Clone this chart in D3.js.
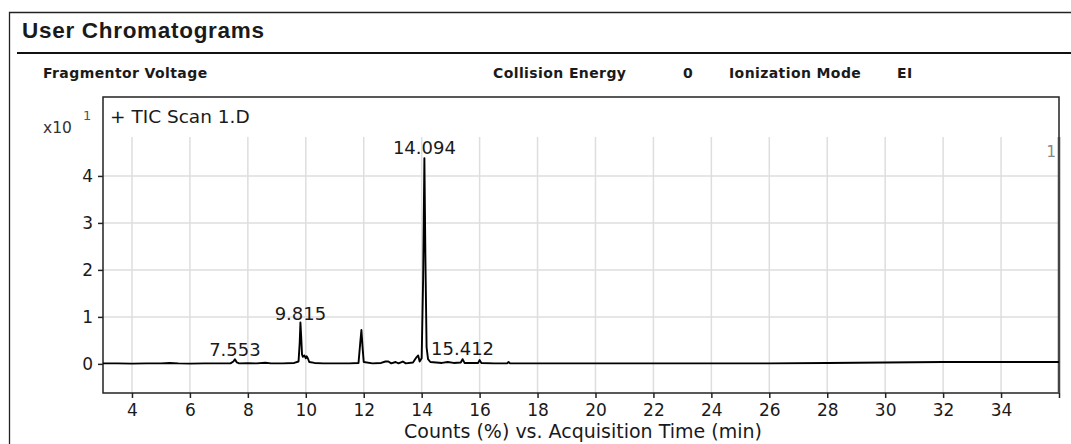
<!DOCTYPE html>
<meta charset="utf-8">
<style>
    body { margin: 0; background: #fff; }
    text { font-family: "DejaVu Sans", Verdana, sans-serif; fill: #1a1a1a; }
    .hdr { font-weight: bold; font-size: 14px; letter-spacing: 0.4px; }
</style>
<body>
<script src="https://cdn.jsdelivr.net/npm/d3@7"></script>
<script>

// acquisition time (min) and counts (x10^1 %)
var times = [3.0, 3.5, 4.0, 4.5, 5.0, 5.3, 5.6, 6.0, 6.5, 7.0, 7.4, 7.5, 7.553, 7.62, 7.7,
    8.0, 8.3, 8.6, 8.8, 9.2, 9.6, 9.75, 9.79, 9.815, 9.84, 9.87, 9.9, 9.95, 10.0, 10.03,
    10.07, 10.12, 10.3, 10.6, 11.0, 11.5, 11.82, 11.88, 11.92, 11.96, 12.0, 12.3, 12.6, 12.75,
    12.85, 12.95, 13.1, 13.2, 13.35, 13.45, 13.7, 13.82, 13.88, 13.93, 14.0, 14.05, 14.094,
    14.13, 14.17, 14.22, 14.3, 14.5, 14.7, 14.9, 15.1, 15.35, 15.412, 15.48, 15.7, 15.95,
    16.0, 16.06, 16.5, 16.95, 17.0, 17.05, 18, 20, 22, 24, 26, 28, 30, 32, 34, 36];
var counts = [0.01, 0.01, 0.005, 0.01, 0.01, 0.02, 0.01, 0.005, 0.01, 0.01, 0.01, 0.05, 0.10, 0.03, 0.01,
    0.015, 0.01, 0.025, 0.01, 0.01, 0.02, 0.05, 0.45, 0.88, 0.6, 0.2, 0.15, 0.18, 0.12, 0.16,
    0.12, 0.04, 0.02, 0.01, 0.01, 0.01, 0.02, 0.45, 0.72, 0.35, 0.04, 0.01, 0.02, 0.05,
    0.05, 0.01, 0.04, 0.01, 0.05, 0.01, 0.03, 0.14, 0.18, 0.05, 0.12, 1.8, 4.38,
    2.2, 0.35, 0.1, 0.04, 0.03, 0.02, 0.04, 0.02, 0.03, 0.10, 0.02, 0.02, 0.02,
    0.08, 0.02, 0.01, 0.01, 0.04, 0.01, 0.01, 0.01, 0.01, 0.01, 0.01, 0.02, 0.03, 0.04, 0.04, 0.04];

var peakLabels = ["7.553", "9.815", "14.094", "15.412"];
var xTicks = [4, 6, 8, 10, 12, 14, 16, 18, 20, 22, 24, 26, 28, 30, 32, 34, 36];
var yTicks = [0, 1, 2, 3, 4];

var width = 1071, height = 444;
var plotL = 103, plotR = 1059, plotT = 97, plotB = 393;

var svg = d3.select("body").append("svg")
    .attr("width", width)
    .attr("height", height);

var x = d3.scaleLinear().domain([3, 36]).range([plotL, plotR]);
var y = d3.scaleLinear().domain([-0.62, 5.68]).range([plotB, plotT]);

// outer panel frame
svg.append("path")
    .attr("d", "M9.5," + height + "V12.5H" + width)
    .attr("fill", "none").attr("stroke", "#222").attr("stroke-width", 1.3);

svg.append("text")
    .attr("x", 22).attr("y", 38)
    .style("font-family", "'Liberation Sans', Arial, sans-serif")
    .style("font-weight", "bold").style("font-size", "22.5px")
    .style("letter-spacing", "0.7px")
    .text("User Chromatograms");

svg.append("line")
    .attr("x1", 17).attr("x2", width).attr("y1", 53).attr("y2", 53)
    .attr("stroke", "#111").attr("stroke-width", 2.2);

// header row
var hdr = [["Fragmentor Voltage", 43], ["Collision Energy", 493], ["0", 683],
           ["Ionization Mode", 729], ["EI", 897]];
svg.selectAll(".hdr").data(hdr).enter().append("text")
    .attr("class", "hdr")
    .attr("x", function(d) { return d[1]; })
    .attr("y", 78)
    .text(function(d) { return d[0]; });

// grid
var gridTop = 137;
svg.append("g").selectAll("line").data(xTicks.slice(0, -1)).enter().append("line")
    .attr("x1", function(d) { return x(d); }).attr("x2", function(d) { return x(d); })
    .attr("y1", gridTop).attr("y2", plotB)
    .attr("stroke", "#dedede").attr("stroke-width", 1.5);
svg.append("g").selectAll("line").data(yTicks.slice(1)).enter().append("line")
    .attr("x1", plotL).attr("x2", plotR)
    .attr("y1", function(d) { return y(d); }).attr("y2", function(d) { return y(d); })
    .attr("stroke", "#dedede").attr("stroke-width", 1.5);

// axes
var xAxis = svg.append("g")
    .attr("transform", "translate(0," + plotB + ")")
    .call(d3.axisBottom(x).tickValues(xTicks).tickSize(5).tickPadding(6)
        .tickFormat(function(d) { return d == 36 ? "" : d; }));
var yAxis = svg.append("g")
    .attr("transform", "translate(" + plotL + ",0)")
    .call(d3.axisLeft(y).tickValues(yTicks).tickSize(5).tickPadding(5)
        .tickFormat(d3.format("d")));
[xAxis, yAxis].forEach(function(g) {
    g.select(".domain").remove();
    g.selectAll(".tick line").attr("stroke", "#222").attr("stroke-width", 1.5);
    g.selectAll(".tick text").style("font-size", "17px")
        .style("font-family", "'DejaVu Sans', Verdana, sans-serif").attr("fill", "#1a1a1a");
});

svg.append("rect")
    .attr("x", plotL).attr("y", plotT)
    .attr("width", plotR - plotL).attr("height", plotB - plotT)
    .attr("fill", "none").attr("stroke", "#222").attr("stroke-width", 1.5);

// marker at right edge
svg.append("line")
    .attr("x1", plotR).attr("x2", plotR).attr("y1", gridTop).attr("y2", plotB)
    .attr("stroke", "#444").attr("stroke-width", 2.5);
svg.append("text")
    .attr("x", plotR - 3).attr("y", 157)
    .attr("text-anchor", "end")
    .style("font-size", "15px").style("fill", "#888")
    .text("1");

// chromatogram trace
var line = d3.line()
    .x(function(d, i) { return x(times[i]); })
    .y(function(d) { return y(d); });

svg.append("path")
    .datum(counts)
    .attr("d", line)
    .attr("fill", "none")
    .attr("stroke", "#000")
    .attr("stroke-width", 1.9)
    .attr("stroke-linejoin", "round");

// peak labels
svg.selectAll(".peak").data(peakLabels).enter().append("text")
    .attr("class", "peak")
    .attr("x", function(d) { return x(+d); })
    .attr("y", function(d) {
        var i = times.indexOf(+d);
        return y(counts[i]) - (+d > 14 ? 4 : 3);
    })
    .attr("text-anchor", "middle")
    .style("font-size", "18px")
    .text(function(d) { return d; });

// labels
svg.append("text")
    .attr("x", 110).attr("y", 123)
    .style("font-size", "18.5px")
    .text("+ TIC Scan 1.D");

svg.append("text")
    .attr("x", 43).attr("y", 133)
    .style("font-size", "15.5px").style("fill", "#333")
    .text("x10");
svg.append("text")
    .attr("x", 83).attr("y", 120)
    .style("font-size", "13px").style("fill", "#555")
    .text("1");

svg.append("text")
    .attr("x", 583).attr("y", 438)
    .attr("text-anchor", "middle")
    .style("font-size", "19px")
    .text("Counts (%) vs. Acquisition Time (min)");

</script>
</body>
